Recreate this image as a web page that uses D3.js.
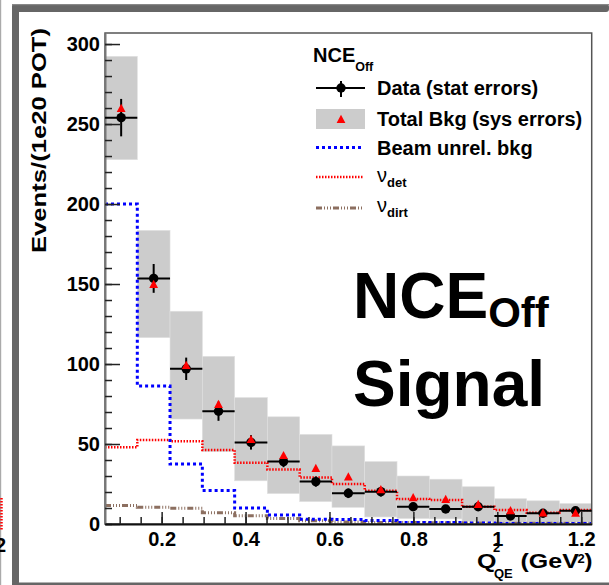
<!DOCTYPE html>
<html>
<head>
<meta charset="utf-8">
<script src="https://cdn.jsdelivr.net/npm/d3@7"></script>
<style>
body { margin: 0; background: #fff; }
svg text { font-family: "Liberation Sans", Arial, Helvetica, sans-serif; font-weight: bold; fill: #000; }
</style>
</head>
<body>
<script>
// NCE_Off signal, Q2_QE distribution
const width = 609, height = 585

// bin edges in Q2_QE (GeV^2)
const binEdges = [0.065, 0.142, 0.220, 0.297, 0.374, 0.452, 0.529, 0.606,
                  0.684, 0.761, 0.838, 0.916, 0.993, 1.070, 1.148, 1.225]

const dataVals = [254, 153.5, 97, 70.5, 51, 39, 26.5, 19.2, 20.2, 10.8, 9.4, 10.8, 5, 6.7, 8.3]
const dataErr  = [11.7, 9, 7, 6, 4.5, 3.5, 3.2, 3, 3, 2.5, 2.5, 2.5, 2, 2, 2]

const bkgVals = [260, 150, 99.3, 75, 53, 43, 35, 29.6, 21.7, 16.7, 15.6, 12.5, 8.5, 7.2, 7]
const bkgErr  = [32.3, 33.5, 33.7, 29.8, 26, 24, 21, 19.2, 17.3, 13.3, 12.4, 10.8, 7.3, 7.3, 5.8]

const beamVals = [200, 86.3, 37.5, 21, 10, 5.6, 3, 2.8, 2.2, 1, 0.9, 0.6, 0.3, 0.3, 0.3]
const detVals  = [48, 52.5, 51.7, 46.3, 38.3, 34, 29.1, 25, 20.8, 15.6, 15, 10.8, 8.7, 7.1, 8.7]
const dirtVals = [11.5, 10.4, 9.8, 7.1, 5.1, 3.5, 2.1, 1.2, 1, 1, 0.8, 0.7, 0.5, 0.5, 0.5]

const xTicks = [0.2, 0.4, 0.6, 0.8, 1, 1.2]
const yTicks = [0, 50, 100, 150, 200, 250, 300]

const x = d3.scaleLinear()
    .domain([0.065, 1.225])
    .range([105, 591.7])

const y = d3.scaleLinear()
    .domain([0, 306.9])
    .range([524, 33])

const svg = d3.select("body")
    .append("svg")
      .attr("width", width)
      .attr("height", height)

// canvas bevel / neighbour panels
svg.append("rect").attr("x", 0).attr("y", 0).attr("width", 1.2).attr("height", height).style("fill", "#aaa")
svg.append("line")
    .attr("x1", 1.5).attr("x2", 1.5).attr("y1", 498).attr("y2", 530)
    .style("stroke", "red").style("stroke-width", 2.5).style("stroke-dasharray", "1.5,1.5")
svg.append("text").attr("x", 6).attr("y", 552).attr("text-anchor", "end")
    .style("font-size", "20px").text("2")
svg.append("rect").attr("x", 12).attr("y", 4).attr("width", width - 12).attr("height", 8)
    .attr("rx", 3).style("fill", "#666")
svg.append("rect").attr("x", 12).attr("y", 4).attr("width", 7).attr("height", height - 4)
    .attr("rx", 3).style("fill", "#666")
svg.append("rect").attr("x", 12).attr("y", 582.5).attr("width", width - 12).attr("height", 3)
    .style("fill", "#666")
svg.append("rect").attr("x", 12).attr("y", 4).attr("width", width - 12).attr("height", 1.2)
    .style("fill", "#888")

const bins = d3.range(dataVals.length)

// total bkg band (sys errors)
svg.append("g").selectAll("rect")
    .data(bins)
    .enter()
    .append("rect")
      .attr("x", function(i){ return x(binEdges[i]) })
      .attr("width", function(i){ return x(binEdges[i + 1]) - x(binEdges[i]) })
      .attr("y", function(i){ return y(bkgVals[i] + bkgErr[i]) })
      .attr("height", function(i){ return y(bkgVals[i] - bkgErr[i]) - y(bkgVals[i] + bkgErr[i]) })
      .style("fill", "#cccccc")
      .style("stroke", "#e0e0e0")
      .style("stroke-width", 0.6)

// step histograms
const step = d3.line()
    .x(function(d){ return x(d[0]) })
    .y(function(d){ return y(d[1]) })
    .curve(d3.curveStepAfter)

function histPoints(vals) {
  const pts = vals.map(function(v, i){ return [binEdges[i], v] })
  pts.push([binEdges[vals.length], vals[vals.length - 1]])
  return pts
}

const histStyles = [
  { vals: detVals,  color: "#ff0000", w: 2.5, dash: "1.5,1.5" },
  { vals: dirtVals, color: "#8c6f60", w: 3,   dash: "6,2,1,2,1,2,1,2" },
  { vals: beamVals, color: "#0000ff", w: 3,   dash: "3,3" }
]

histStyles.forEach(function(h){
  svg.append("path")
      .attr("d", step(histPoints(h.vals)))
      .style("fill", "none")
      .style("stroke", h.color)
      .style("stroke-width", h.w)
      .style("stroke-dasharray", h.dash)
})

// frame
svg.append("rect")
    .attr("x", 105).attr("y", 33)
    .attr("width", 591.7 - 105).attr("height", 524 - 33)
    .style("fill", "none")
    .style("stroke", "#555")
    .style("stroke-width", 1.5)

// axes
const yAxis = svg.append("g")
    .attr("transform", "translate(105,0)")
    .call(d3.axisLeft(y).tickValues(yTicks).tickSize(-15).tickSizeOuter(0).tickPadding(5)
      .tickFormat(d3.format("d")))
const yMinor = svg.append("g")
    .attr("transform", "translate(105,0)")
    .call(d3.axisLeft(y).tickValues(d3.range(0, 307, 10)).tickSize(-7).tickSizeOuter(0)
      .tickFormat(""))

const xAxis = svg.append("g")
    .attr("transform", "translate(0,524)")
    .call(d3.axisBottom(x).tickValues(xTicks).tickSize(-12).tickSizeOuter(0).tickPadding(8)
      .tickFormat(d3.format("~g")))
const xMinor = svg.append("g")
    .attr("transform", "translate(0,524)")
    .call(d3.axisBottom(x).tickValues(d3.range(0.1, 1.21, 0.05)).tickSize(-7).tickSizeOuter(0)
      .tickFormat(""))

svg.selectAll(".tick line").style("stroke", "#222").style("stroke-width", 1.5)
svg.selectAll(".tick text").style("font-size", "20px")
yAxis.select(".domain").style("stroke", "#777").style("stroke-width", 2)
yMinor.select(".domain").remove()
xAxis.select(".domain").style("stroke", "#111").style("stroke-width", 2)
xMinor.select(".domain").remove()

// data points (stat errors)
const pts = svg.append("g").selectAll("g")
    .data(bins)
    .enter()
    .append("g")

pts.append("line")
    .attr("x1", function(i){ return x(binEdges[i]) })
    .attr("x2", function(i){ return x(binEdges[i + 1]) })
    .attr("y1", function(i){ return y(dataVals[i]) })
    .attr("y2", function(i){ return y(dataVals[i]) })
    .style("stroke", "#000").style("stroke-width", 2)
pts.append("line")
    .attr("x1", function(i){ return x((binEdges[i] + binEdges[i + 1]) / 2) })
    .attr("x2", function(i){ return x((binEdges[i] + binEdges[i + 1]) / 2) })
    .attr("y1", function(i){ return y(dataVals[i] + dataErr[i]) })
    .attr("y2", function(i){ return y(dataVals[i] - dataErr[i]) })
    .style("stroke", "#000").style("stroke-width", 2)
pts.append("circle")
    .attr("cx", function(i){ return x((binEdges[i] + binEdges[i + 1]) / 2) })
    .attr("cy", function(i){ return y(dataVals[i]) })
    .attr("r", 4.7)
    .style("fill", "#000")

const triPath = "M0,-4.3L4.4,3.9L-4.4,3.9Z"

svg.append("g").selectAll("path")
    .data(bins)
    .enter()
    .append("path")
      .attr("d", triPath)
      .attr("transform", function(i){
        return "translate(" + x((binEdges[i] + binEdges[i + 1]) / 2) + "," + y(bkgVals[i]) + ")"
      })
      .style("fill", "#ff0000")

// legend
const legend = svg.append("g")
const lt = legend.append("text").attr("x", 313).attr("y", 62).style("font-size", "20px")
lt.append("tspan").text("NCE")
lt.append("tspan").attr("dy", 9).style("font-size", "12.5px").text("Off")

legend.append("line").attr("x1", 316).attr("x2", 365).attr("y1", 88).attr("y2", 88)
    .style("stroke", "#000").style("stroke-width", 2)
legend.append("line").attr("x1", 341).attr("x2", 341).attr("y1", 81).attr("y2", 97)
    .style("stroke", "#000").style("stroke-width", 2)
legend.append("circle").attr("cx", 341).attr("cy", 88).attr("r", 4.7).style("fill", "#000")
legend.append("text").attr("x", 377).attr("y", 95).style("font-size", "20px").text("Data (stat errors)")

legend.append("rect").attr("x", 316).attr("y", 109).attr("width", 49).attr("height", 20)
    .style("fill", "#cccccc")
legend.append("path").attr("d", triPath).attr("transform", "translate(341,119)").style("fill", "#ff0000")
legend.append("text").attr("x", 377).attr("y", 125.5).style("font-size", "20px").text("Total Bkg (sys errors)")

const legLines = [
  { y: 147.5, style: histStyles[2] },
  { y: 177,   style: histStyles[0] },
  { y: 208,   style: histStyles[1] }
]
legLines.forEach(function(l){
  legend.append("line").attr("x1", 316).attr("x2", 364).attr("y1", l.y).attr("y2", l.y)
      .style("stroke", l.style.color)
      .style("stroke-width", l.style.w)
      .style("stroke-dasharray", l.style.dash)
})
legend.append("text").attr("x", 377).attr("y", 154.5).style("font-size", "20px").text("Beam unrel. bkg")

const nuDet = legend.append("text").attr("x", 377).attr("y", 182).style("font-size", "20px")
nuDet.append("tspan").style("font-weight", "normal").text("ν")
nuDet.append("tspan").attr("dy", 5).style("font-size", "13px").text("det")
const nuDirt = legend.append("text").attr("x", 377).attr("y", 212).style("font-size", "20px")
nuDirt.append("tspan").style("font-weight", "normal").text("ν")
nuDirt.append("tspan").attr("dy", 5).style("font-size", "13px").text("dirt")

// big label
const big = svg.append("text").attr("x", 353).attr("y", 318).style("font-size", "64px")
big.append("tspan").text("NCE")
big.append("tspan").attr("dy", 9).style("font-size", "42px").text("Off")
svg.append("text").attr("x", 353).attr("y", 406).style("font-size", "64px").text("Signal")

// x axis title: Q^2_QE (GeV^2), pieces placed one by one
const xTitle = svg.append("g")
xTitle.append("text").attr("transform", "translate(477,568) scale(1.25,1)")
    .style("font-size", "20px").text("Q")
xTitle.append("text").attr("x", 493).attr("y", 552).style("font-size", "13px").text("2")
xTitle.append("text").attr("x", 494).attr("y", 578).style("font-size", "13px").text("QE")
xTitle.append("text").attr("transform", "translate(520.5,568) scale(1.25,1)")
    .style("font-size", "20px").text("(GeV")
xTitle.append("text").attr("x", 577.5).attr("y", 563).style("font-size", "13px").text("2")
xTitle.append("text").attr("transform", "translate(584.5,568) scale(1.2,1)")
    .style("font-size", "20px").text(")")

svg.append("text")
    .attr("transform", "translate(46,140.5) rotate(-90)")
    .attr("text-anchor", "middle")
    .attr("textLength", 225)
    .attr("lengthAdjust", "spacingAndGlyphs")
    .style("font-size", "20px")
    .text("Events/(1e20 POT)")
</script>
</body>
</html>
